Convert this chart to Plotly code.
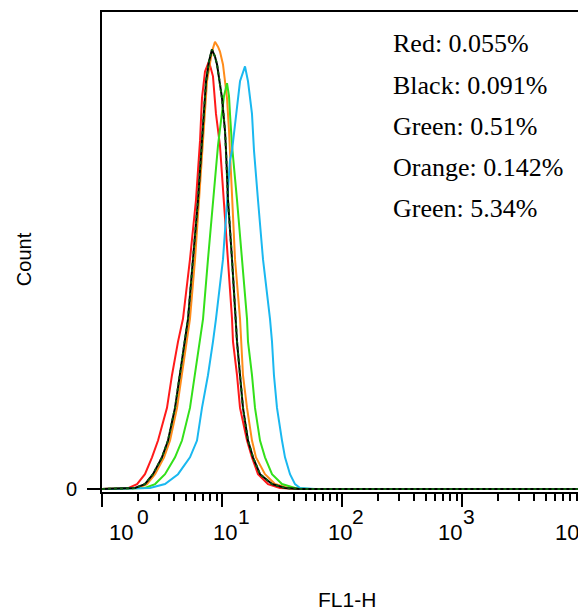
import plotly.graph_objects as go

# ---- data (FL1-H fluorescence, count) ----
fl_red = [1, 1.65, 1.96, 2.28, 2.61, 2.93, 3.48, 3.83, 4.30, 4.73, 5.41, 6.07, 6.56, 6.81, 7.22, 7.79,
          8.41, 8.91, 9.62, 10.39, 11.22, 12.12, 12.35, 13.34, 14.13, 16.16, 17.78, 19.95, 24.17, 30.4, 44.7, 10000]
cnt_red = [0, 1, 5, 15, 32, 49, 82, 115, 149, 172, 232, 292, 352, 395, 422, 432,
           417, 379, 347, 292, 232, 172, 149, 115, 82, 49, 32, 15, 5, 1, 0, 0]

fl_black = [1, 1.88, 2.28, 2.66, 3.16, 3.55, 4.06, 4.47, 4.92, 5.21, 5.73, 6.31, 6.81, 7.36, 7.79, 8.25,
            8.74, 9.09, 10.0, 10.59, 10.80, 11.22, 12.12, 12.84, 13.34, 14.13, 14.96, 16.47, 18.13, 20.74,
            26.1, 33.5, 44.7, 10000]
cnt_black = [0, 1, 5, 15, 32, 49, 82, 115, 149, 172, 232, 292, 352, 412, 432, 444,
             437, 429, 395, 362, 342, 292, 232, 182, 149, 115, 82, 49, 32, 15,
             5, 1, 0, 0]

fl_orange = [1, 2.0, 2.37, 2.77, 3.29, 3.69, 4.22, 4.64, 5.11, 5.41, 5.96, 6.43, 6.95, 7.50, 8.25, 8.74,
             9.26, 9.62, 10.19, 11.01, 11.44, 11.66, 12.12, 12.84, 14.13, 14.96, 16.16, 17.78, 19.2, 22.82,
             27.65, 35.5, 49.2, 10000]
cnt_orange = [0, 1, 5, 15, 32, 49, 82, 115, 149, 172, 232, 292, 352, 412, 442, 452,
              447, 442, 429, 395, 362, 342, 292, 232, 172, 115, 82, 49, 32, 15,
              5, 1, 0, 0]

fl_green = [1, 2.28, 2.77, 3.35, 4.06, 4.64, 5.41, 5.96, 6.56, 6.95, 7.64, 8.41, 9.26, 9.81, 10.39, 11.01,
            11.44, 11.66, 12.12, 13.34, 14.68, 16.16, 16.47, 17.78, 18.84, 20.74, 22.82, 26.1, 31.6, 40.6,
            54.1, 10000]
cnt_green = [0, 1, 5, 15, 32, 49, 82, 115, 149, 172, 232, 292, 347, 372, 397, 410,
             397, 379, 347, 292, 232, 172, 149, 115, 82, 49, 32, 15, 5, 1,
             0, 0]

fl_blue = [1, 2.51, 3.35, 4.30, 5.41, 6.19, 6.81, 7.64, 8.41, 8.91, 10.19, 11.01, 11.66, 12.12, 13.09, 14.13,
           15.55, 16.47, 17.78, 18.48, 19.95, 21.97, 25.12, 26.1, 27.1, 28.73, 31.62, 33.5, 36.87, 40.58,
           44.67, 59.6, 10000]
cnt_blue = [0, 1, 5, 15, 32, 49, 82, 115, 149, 172, 232, 292, 332, 342, 379, 412,
            427, 412, 379, 342, 292, 232, 172, 149, 115, 82, 49, 32, 15, 5,
            1, 0, 0]

stat_labels = ["Red: 0.055%", "Black: 0.091%", "Green: 0.51%", "Orange: 0.142%", "Green: 5.34%"]

tick_vals = [1, 10, 100, 1000, 10000]
tick_base = "10"
tick_exponents = ["0", "1", "2", "3", "4"]

# ---- layout constants (page body has an 8px margin, so the figure is 8px smaller) ----
PAGE_OFF = 8
W, H = 586 - PAGE_OFF, 615 - PAGE_OFF
L, R, T, B = 102 - PAGE_OFF, 3, 10 - PAGE_OFF, 123
SANS = "Liberation Sans, Arial, sans-serif"
SERIF = "Liberation Serif, Times New Roman, serif"

fig = go.Figure()
series = [
    (fl_red, cnt_red, "#ff1a1a", "solid"),
    (fl_orange, cnt_orange, "#ff8c1a", "solid"),
    (fl_green, cnt_green, "#33e01a", "solid"),
    (fl_blue, cnt_blue, "#1ab8f0", "solid"),
    (fl_black, cnt_black, "#000000", "solid"),
    (fl_black, cnt_black, "#0f5a0f", "dot"),
]
for xs, ys, col, dash in series:
    fig.add_trace(go.Scatter(x=xs, y=ys, mode="lines",
                             line=dict(color=col, width=2, dash=dash),
                             showlegend=False, hoverinfo="skip"))

minor_vals = [m * 10 ** e for e in range(4) for m in range(2, 10)]

fig.update_xaxes(type="log", range=[0, 4], showline=True, linecolor="black", linewidth=2,
                 mirror=True, showgrid=False, zeroline=False,
                 tickmode="array", tickvals=tick_vals, showticklabels=False,
                 ticks="outside", ticklen=13, tickwidth=2, tickcolor="black",
                 minor=dict(tickmode="array", tickvals=minor_vals, ticks="outside",
                            ticklen=7, tickwidth=1.5, tickcolor="black", showgrid=False))
fig.update_yaxes(range=[-3, 482], showline=True, linecolor="black", linewidth=2,
                 mirror=True, showgrid=False, zeroline=False,
                 tickmode="array", tickvals=[0], ticktext=["0"],
                 ticks="outside", ticklen=13, tickwidth=2, tickcolor="black",
                 ticklabelstandoff=6,
                 tickfont=dict(family=SANS, size=20, color="black"))

pw = W - L - R
ph = H - T - B


def px_x(p):
    return (p - PAGE_OFF - L) / pw


def px_y(p):
    return (H - B - (p - PAGE_OFF)) / ph


ann = []
# x tick labels 10^n, placed with the offsets seen in the reference
base_left_px = [107, 211, 326, 437, 554]
exp_left_px = [135, 236, 351, 462, 579]
for e, bp, ep in zip(tick_exponents, base_left_px, exp_left_px):
    ann.append(dict(x=px_x(bp), y=px_y(533), xref="paper", yref="paper",
                    xanchor="left", yanchor="middle", showarrow=False, text=tick_base,
                    font=dict(family=SANS, size=22, color="black")))
    ann.append(dict(x=px_x(ep), y=px_y(517), xref="paper", yref="paper",
                    xanchor="left", yanchor="middle", showarrow=False, text=e,
                    font=dict(family=SANS, size=21, color="black")))
# stats text
stat_y_px = [42, 84, 125, 166, 207]
for s, yp in zip(stat_labels, stat_y_px):
    ann.append(dict(x=px_x(392), y=px_y(yp), xref="paper", yref="paper",
                    xanchor="left", yanchor="middle", showarrow=False, text=s,
                    font=dict(family=SERIF, size=26, color="black")))
# axis titles
ann.append(dict(x=px_x(24), y=px_y(258), xref="paper", yref="paper", textangle=-90,
                xanchor="center", yanchor="middle", showarrow=False, text="Count",
                font=dict(family=SANS, size=20, color="black")))
ann.append(dict(x=px_x(348), y=px_y(600), xref="paper", yref="paper",
                xanchor="center", yanchor="middle", showarrow=False, text="FL1-H",
                font=dict(family=SANS, size=21, color="black")))

fig.update_layout(width=W, height=H, margin=dict(l=L, r=R, t=T, b=B),
                  plot_bgcolor="white", paper_bgcolor="white", annotations=ann)

fig.write_html("out.html")
